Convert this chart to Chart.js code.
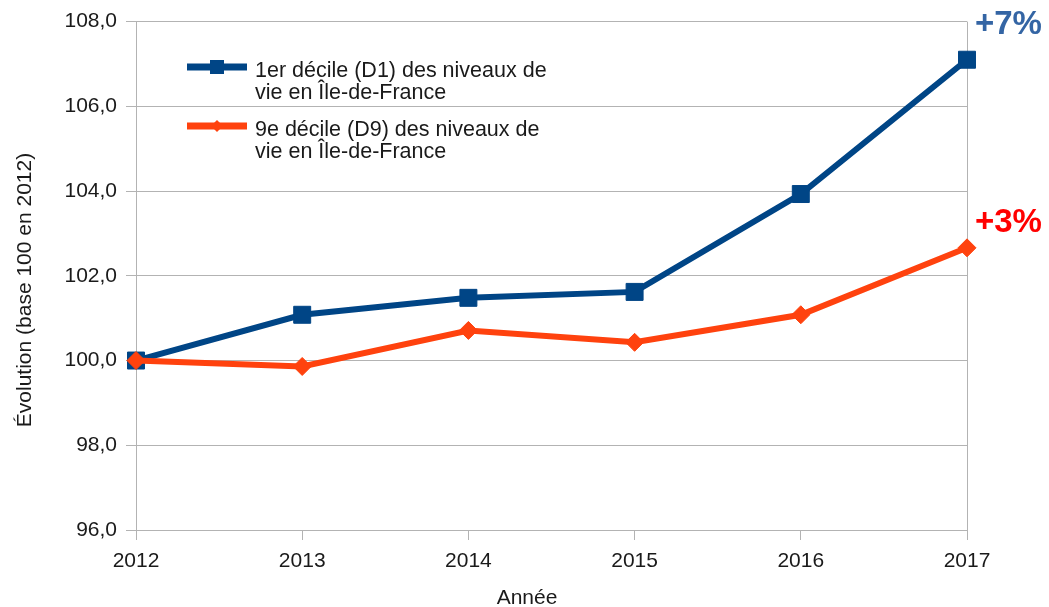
<!DOCTYPE html>
<html>
<head>
<meta charset="utf-8">
<script src="https://cdn.jsdelivr.net/npm/chart.js"></script>
<style>
  html, body { margin: 0; padding: 0; background: #fff; }
  #wrap { width: 1049px; height: 607px; }
</style>
</head>
<body>
<div id="wrap"><canvas id="myChart" width="1049" height="607"></canvas></div>
<script>
const years = ['2012', '2013', '2014', '2015', '2016', '2017'];
const d1Values = [100, 101.08, 101.48, 101.62, 103.93, 107.1];
const d9Values = [100, 99.86, 100.71, 100.43, 101.08, 102.66];
const d1Label = ['1er décile (D1) des niveaux de', 'vie en Île-de-France'];
const d9Label = ['9e décile (D9) des niveaux de', 'vie en Île-de-France'];
const endLabels = ['+7%', '+3%'];
const xTitle = 'Année';
const yTitle = 'Évolution (base 100 en 2012)';
const yMin = 96, yMax = 108, yStep = 2;

const blue = '#004586';
const orange = '#ff420e';
const gridGray = '#b3b3b3';
const textColor = '#1a1a1a';
const fontName = '"Liberation Sans", Arial, sans-serif';

// legend, axis titles and end labels drawn straight onto the canvas
const extras = {
    id: 'extras',
    afterDatasetsDraw(chart) {
        const c = chart.ctx;
        c.save();
        // legend
        const entries = [
            { lines: d1Label, color: blue, y: 67, marker: 'square' },
            { lines: d9Label, color: orange, y: 126, marker: 'diamond' }
        ];
        entries.forEach(e => {
            c.strokeStyle = e.color;
            c.lineWidth = 7;
            c.beginPath();
            c.moveTo(187, e.y);
            c.lineTo(247, e.y);
            c.stroke();
            c.fillStyle = e.color;
            if (e.marker === 'square') {
                c.fillRect(210, e.y - 7, 14, 14);
            } else {
                c.beginPath();
                c.moveTo(217, e.y - 6);
                c.lineTo(223, e.y);
                c.lineTo(217, e.y + 6);
                c.lineTo(211, e.y);
                c.closePath();
                c.fill();
            }
            c.fillStyle = textColor;
            c.font = '21.5px ' + fontName;
            c.textAlign = 'left';
            c.textBaseline = 'middle';
            e.lines.forEach((t, i) => c.fillText(t, 255, e.y + 4 + i * 22.5));
        });
        // axis titles
        c.fillStyle = textColor;
        c.font = '21px ' + fontName;
        c.textAlign = 'center';
        c.textBaseline = 'middle';
        c.fillText(xTitle, 527, 598);
        c.save();
        c.translate(25, 290);
        c.rotate(-Math.PI / 2);
        c.fillText(yTitle, 0, 0);
        c.restore();
        // end-of-line labels
        const colors = ['#3465a4', '#ff0000'];
        const offsets = [-35, -25];
        chart.data.datasets.forEach((ds, i) => {
            const meta = chart.getDatasetMeta(i);
            const pt = meta.data[meta.data.length - 1];
            c.fillStyle = colors[i];
            c.font = 'bold 33px ' + fontName;
            c.textAlign = 'left';
            c.textBaseline = 'middle';
            c.fillText(endLabels[i], pt.x + 8, pt.y + offsets[i]);
        });
        c.restore();
    }
};

const ctx = document.getElementById('myChart').getContext('2d');
const myChart = new Chart(ctx, {
    type: 'line',
    data: {
        labels: years,
        datasets: [{
            label: d1Label.join(' '),
            data: d1Values,
            borderColor: blue,
            backgroundColor: blue,
            borderWidth: 6,
            pointStyle: 'rect',
            pointRadius: 12,
            pointBorderWidth: 1,
            tension: 0,
            order: 2
        }, {
            label: d9Label.join(' '),
            data: d9Values,
            borderColor: orange,
            backgroundColor: orange,
            borderWidth: 6,
            pointStyle: 'rectRot',
            pointRadius: 9,
            pointBorderWidth: 1,
            tension: 0,
            order: 1
        }]
    },
    options: {
        responsive: false,
        animation: false,
        layout: { padding: { top: 20, right: 82, left: 0, bottom: 0 } },
        plugins: {
            legend: { display: false },
            tooltip: { enabled: false }
        },
        scales: {
            x: {
                afterFit(scale) { scale.height = 77; },
                grid: {
                    color: c => (c.index === 0 || c.index === years.length - 1) ? gridGray : 'rgba(0,0,0,0)',
                    tickColor: gridGray,
                    tickLength: 10,
                    lineWidth: 1
                },
                border: { display: true, color: gridGray },
                ticks: {
                    color: textColor,
                    font: { family: fontName, size: 21 },
                    padding: 9,
                    maxRotation: 0
                }
            },
            y: {
                min: yMin,
                max: yMax,
                afterFit(scale) { scale.width = 136; },
                grid: {
                    color: gridGray,
                    tickColor: gridGray,
                    tickLength: 10,
                    lineWidth: 1
                },
                border: { display: true, color: gridGray },
                ticks: {
                    stepSize: yStep,
                    color: textColor,
                    font: { family: fontName, size: 21 },
                    padding: 9,
                    callback: v => v.toFixed(1).replace('.', ',')
                }
            }
        }
    },
    plugins: [extras]
});
</script>
</body>
</html>
